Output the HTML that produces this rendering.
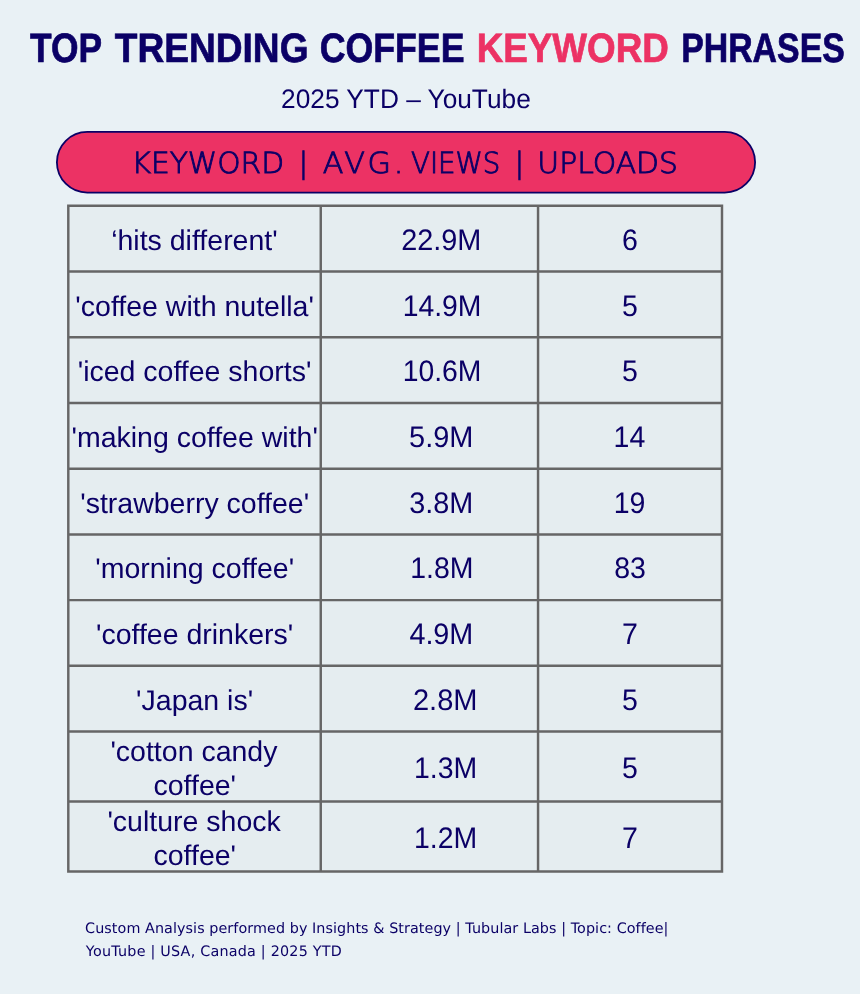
<!DOCTYPE html>
<html lang="en">
<head>
<meta charset="utf-8">
<title>Top Trending Coffee Keyword Phrases</title>
<style>
html,body{margin:0;padding:0}
body{width:860px;height:994px;overflow:hidden;background:#e9f1f5}
svg{display:block}
svg{fill:#0b0066}
text{font-family:"Liberation Sans",sans-serif;text-rendering:geometricPrecision;white-space:pre}
.dj{font-family:"DejaVu Sans","Liberation Sans",sans-serif}
.djl{font-family:"DejaVu Sans Light","DejaVu Sans","Liberation Sans",sans-serif;font-weight:200}
</style>
</head>
<body>
<svg width="860" height="994" viewBox="0 0 860 994">
<rect width="860" height="994" fill="#e9f1f5"/>
<rect id="header-pill" x="56.9" y="131.9" width="698.2" height="60.7" rx="30.35" fill="#ec3264" stroke="#0b0066" stroke-width="1.8"/>
<rect x="68.3" y="205.80" width="653.70" height="665.65" fill="#e5edf0"/>
<path id="grid" d="M67.08 205.80H723.23M67.08 271.52H723.23M67.08 337.24H723.23M67.08 402.96H723.23M67.08 468.68H723.23M67.08 534.40H723.23M67.08 600.12H723.23M67.08 665.84H723.23M67.08 731.56H723.23M67.08 801.40H723.23M67.08 871.45H723.23M68.30 205.80V871.45M320.75 205.80V871.45M538.05 205.80V871.45M722.00 205.80V871.45" fill="none" stroke="#666666" stroke-width="2.45"/>
<g id="title">
<text font-size="41.03" font-weight="bold" stroke="#0b0066" stroke-width="0.7" transform="translate(29.96 61.82) scale(0.8627 1)">TOP</text>
<text font-size="41.03" font-weight="bold" stroke="#0b0066" stroke-width="0.7" transform="translate(114.75 61.82) scale(0.9047 1)">TRENDING</text>
<text font-size="41.03" font-weight="bold" stroke="#0b0066" stroke-width="0.7" transform="translate(319.67 61.82) scale(0.8707 1)">COFFEE</text>
<text font-size="41.03" font-weight="bold" fill="#ec3264" stroke="#ec3264" stroke-width="0.7" transform="translate(476.69 61.82) scale(0.8971 1)">KEYWORD</text>
<text font-size="41.03" font-weight="bold" stroke="#0b0066" stroke-width="0.7" transform="translate(681.13 61.82) scale(0.8254 1)">PHRASES</text>
</g>
<g id="sub">
<text font-size="26.74" transform="translate(281.09 107.80) scale(0.9822 1)">2025 YTD – YouTube</text>
</g>
<g id="pill">
<text class="djl" font-size="29.08" stroke="#0b0066" stroke-width="0.9" transform="translate(131.43 172.55) scale(1.0216 1)">KEYWORD</text>
<text class="djl" font-size="29.08" stroke="#0b0066" stroke-width="0.9" x="298.44" y="172.55">|</text>
<text class="djl" font-size="29.08" stroke="#0b0066" stroke-width="0.9" letter-spacing="2.646" transform="translate(322.64 172.55) scale(1.0400 1)">AVG.</text>
<text class="djl" font-size="29.08" stroke="#0b0066" stroke-width="0.9" transform="translate(410.96 172.55) scale(0.9512 1)">VIEWS</text>
<text class="djl" font-size="29.08" stroke="#0b0066" stroke-width="0.9" x="514.44" y="172.55">|</text>
<text class="djl" font-size="29.08" stroke="#0b0066" stroke-width="0.9" transform="translate(537.35 172.55) scale(1.0254 1)">UPLOADS</text>
</g>
<g id="table">
<g id="r0">
<text font-size="28.5" x="111.18" y="249.86">‘hits different'</text>
<text font-size="28.5" transform="translate(401.15 249.86) scale(1.0123 1.04)">22.9M</text>
<text font-size="28.5" transform="translate(621.94 249.86) scale(1.0000 1.04)">6</text>
</g>
<g id="r1">
<text font-size="28.5" x="75.35" y="315.58">'coffee with nutella'</text>
<text font-size="28.5" transform="translate(402.68 315.58) scale(0.9943 1.04)">14.9M</text>
<text font-size="28.5" transform="translate(622.07 315.58) scale(1.0000 1.04)">5</text>
</g>
<g id="r2">
<text font-size="28.5" x="77.69" y="381.30">'iced coffee shorts'</text>
<text font-size="28.5" transform="translate(402.68 381.30) scale(0.9943 1.04)">10.6M</text>
<text font-size="28.5" transform="translate(622.07 381.30) scale(1.0000 1.04)">5</text>
</g>
<g id="r3">
<text font-size="28.5" x="71.46" y="447.02">'making coffee with'</text>
<text font-size="28.5" transform="translate(409.07 447.02) scale(1.0151 1.04)">5.9M</text>
<text font-size="28.5" transform="translate(613.54 447.02) scale(1.0000 1.04)">14</text>
</g>
<g id="r4">
<text font-size="28.5" x="80.22" y="512.74">'strawberry coffee'</text>
<text font-size="28.5" transform="translate(409.34 512.74) scale(1.0104 1.04)">3.8M</text>
<text font-size="28.5" transform="translate(613.76 512.74) scale(1.0000 1.04)">19</text>
</g>
<g id="r5">
<text font-size="28.5" x="95.22" y="578.46">'morning coffee'</text>
<text font-size="28.5" transform="translate(410.19 578.46) scale(0.9979 1.04)">1.8M</text>
<text font-size="28.5" transform="translate(614.18 578.46) scale(1.0000 1.04)">83</text>
</g>
<g id="r6">
<text font-size="28.5" x="95.98" y="644.18">'coffee drinkers'</text>
<text font-size="28.5" transform="translate(409.38 644.18) scale(1.0094 1.04)">4.9M</text>
<text font-size="28.5" transform="translate(621.99 644.18) scale(1.0000 1.04)">7</text>
</g>
<g id="r7">
<text font-size="28.5" x="136.10" y="709.90">'Japan is'</text>
<text font-size="28.5" transform="translate(412.98 709.90) scale(1.0181 1.04)">2.8M</text>
<text font-size="28.5" transform="translate(622.07 709.90) scale(1.0000 1.04)">5</text>
</g>
<g id="r8">
<text font-size="28.5" x="110.42" y="760.58">'cotton candy</text>
<text font-size="28.5" x="153.49" y="794.78">coffee'</text>
<text font-size="28.5" transform="translate(414.03 777.68) scale(0.9977 1.04)">1.3M</text>
<text font-size="28.5" transform="translate(622.07 777.68) scale(1.0000 1.04)">5</text>
</g>
<g id="r9">
<text font-size="28.5" x="107.38" y="830.52">'culture shock</text>
<text font-size="28.5" x="153.49" y="864.73">coffee'</text>
<text font-size="28.5" transform="translate(414.03 847.62) scale(0.9977 1.04)">1.2M</text>
<text font-size="28.5" transform="translate(621.99 847.62) scale(1.0000 1.04)">7</text>
</g>
</g>
<g id="foot">
<text class="dj" font-size="14.33" letter-spacing="0.074" x="85.08" y="932.90">Custom Analysis performed by Insights &amp; Strategy | Tubular Labs | Topic: Coffee|</text>
<text class="dj" font-size="14.33" letter-spacing="0.226" x="85.85" y="955.80">YouTube | USA, Canada | 2025 YTD</text>
</g>
</svg>
</body>
</html>
